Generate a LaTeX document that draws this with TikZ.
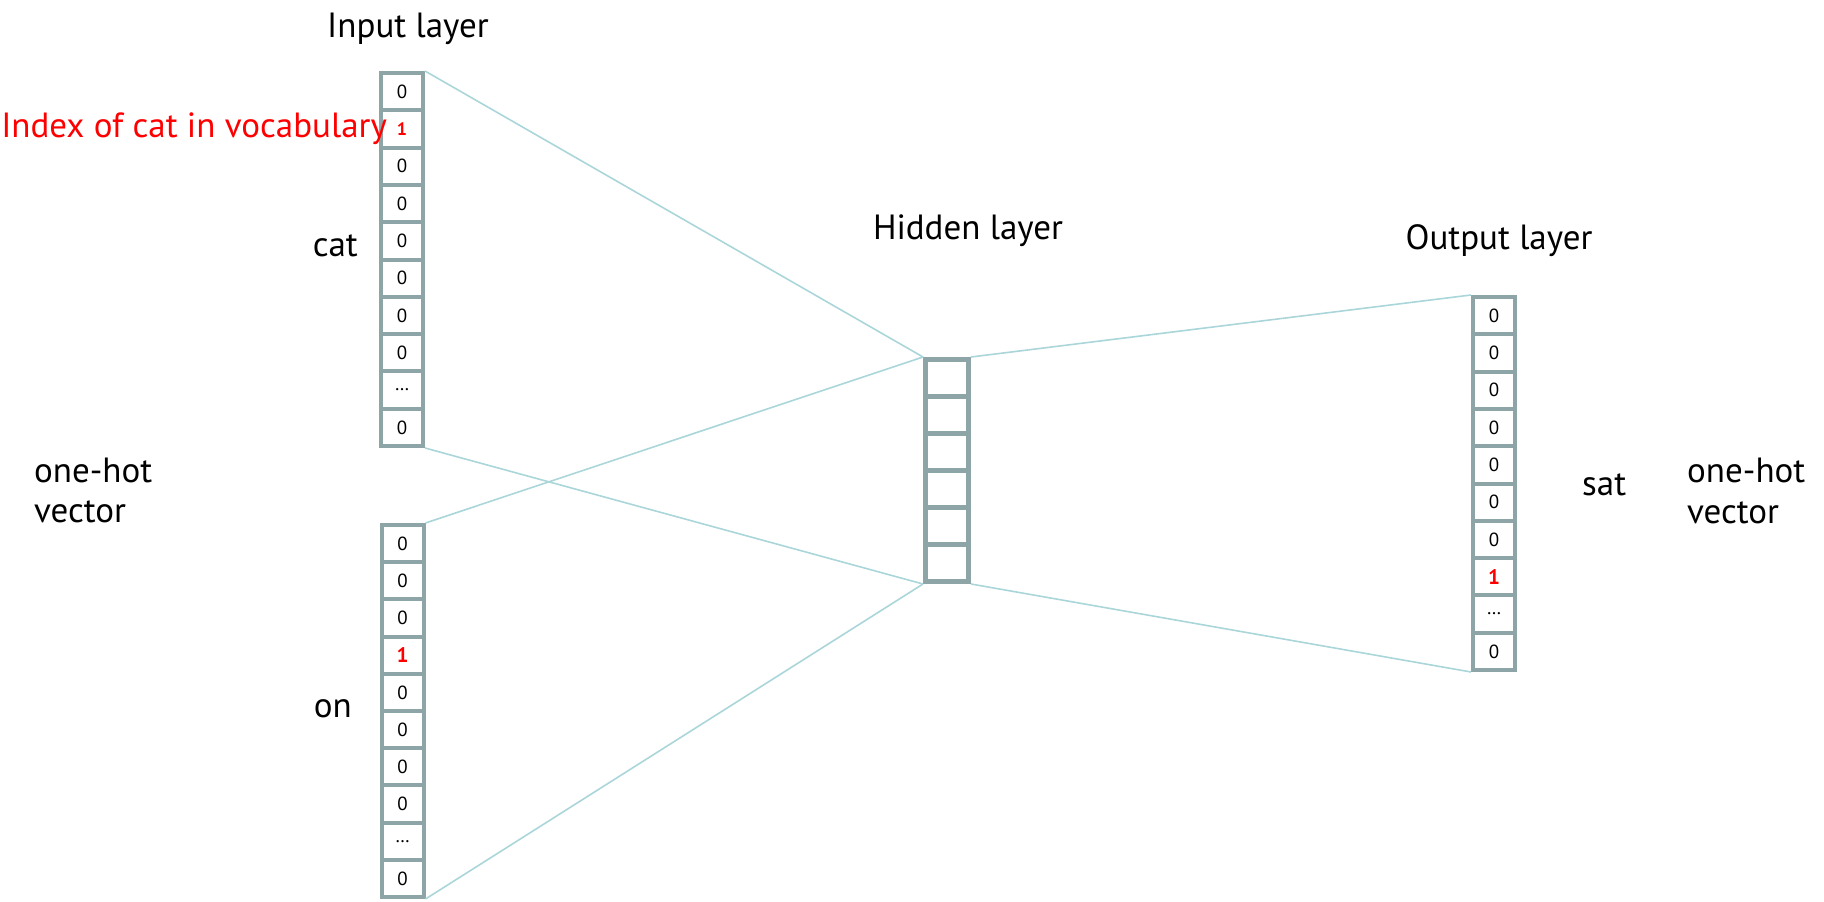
\documentclass[tikz,border=0pt]{standalone}
\usepackage{fontspec}
\setmainfont{PT Sans}
\begin{document}
\begin{tikzpicture}[x=1pt,y=-1pt,
  cellline/.style={draw=framegray,line width=4pt,fill=white,minimum width=42pt,minimum height=37.3pt,inner sep=0pt,outer sep=0pt,font=\fontsize{19}{21}\selectfont},
  hidcell/.style={draw=framegray,line width=5pt,fill=white,minimum width=43pt,minimum height=37pt,inner sep=0pt,outer sep=0pt},
  colframe/.style={inner sep=0pt,outer sep=0pt},
  link/.style={draw=linkblue,line width=1.6pt},
  lbl/.style={font=\fontsize{35}{42}\selectfont,inner sep=0pt,text=black},
  hot/.style={text=red,font=\fontsize{21}{23}\selectfont\bfseries}
]
\definecolor{framegray}{HTML}{8DA5A7}
\definecolor{linkblue}{HTML}{AAD6DA}
\useasboundingbox (0,0) rectangle (1824,902);

% input column for "cat"
\node[colframe,minimum width=46pt,minimum height=377pt] (catcol) at (402,259.5) {};
\foreach \v [count=\i] in {0,1,0,0,0,0,0,0,\dots,0}{
  \node[cellline] (cat\i) at (402,{73+37.3*(\i-0.5)}) {\ifnum\i=2 \textcolor{red}{\bfseries\fontsize{18}{20}\selectfont 1}\else\v\fi};
}

% input column for "on"
\node[colframe,minimum width=46pt,minimum height=376pt] (oncol) at (402.5,711) {};
\foreach \v [count=\i] in {0,0,0,1,0,0,0,0,\dots,0}{
  \node[cellline] (on\i) at (402.5,{525+37.2*(\i-0.5)}) {\ifnum\i=4 \textcolor{red}{\bfseries\fontsize{21}{23}\selectfont 1}\else\v\fi};
}

% hidden layer
\node[colframe,minimum width=48pt,minimum height=227pt] (hidcol) at (947,470.5) {};
\foreach \i in {1,...,6}{
  \node[hidcell] (hid\i) at (947,{359.5+37*(\i-0.5)}) {};
}

% output column for "sat"
\node[colframe,minimum width=46pt,minimum height=377pt] (outcol) at (1494,483.5) {};
\foreach \v [count=\i] in {0,0,0,0,0,0,0,1,\dots,0}{
  \node[cellline] (out\i) at (1494,{297+37.3*(\i-0.5)}) {\ifnum\i=8 \textcolor{red}{\bfseries\fontsize{21}{23}\selectfont 1}\else\v\fi};
}

% connections
\draw[link] (catcol.north east) -- (hidcol.north west);
\draw[link] (catcol.south east) -- (hidcol.south west);
\draw[link] (oncol.north east) -- (hidcol.north west);
\draw[link] (oncol.south east) -- (hidcol.south west);
\draw[link] (hidcol.north east) -- (outcol.north west);
\draw[link] (hidcol.south east) -- (outcol.south west);

% labels
\node[lbl,anchor=base] (inlbl) at (408,37) {Input layer};
\node[lbl,anchor=base] (hidlbl) at (968,239) {Hidden layer};
\node[lbl,anchor=base] (outlbl) at (1499,249) {Output layer};
\node[lbl,anchor=base east,text=red] (idxlbl) at (387,137) {Index of cat in vocabulary};
\node[lbl,anchor=base east] (catlbl) at (358,256) {cat};
\node[lbl,anchor=base east] (onlbl) at (352,717) {on};
\node[lbl,anchor=base west] (satlbl) at (1582,495) {sat};
\node[lbl,anchor=base west] (ohl1) at (34,482) {one-hot};
\node[lbl,anchor=base west] (ohl2) at (34,522) {vector};
\node[lbl,anchor=base west] (ohr1) at (1687,482) {one-hot};
\node[lbl,anchor=base west] (ohr2) at (1687,523) {vector};
\end{tikzpicture}
\end{document}
